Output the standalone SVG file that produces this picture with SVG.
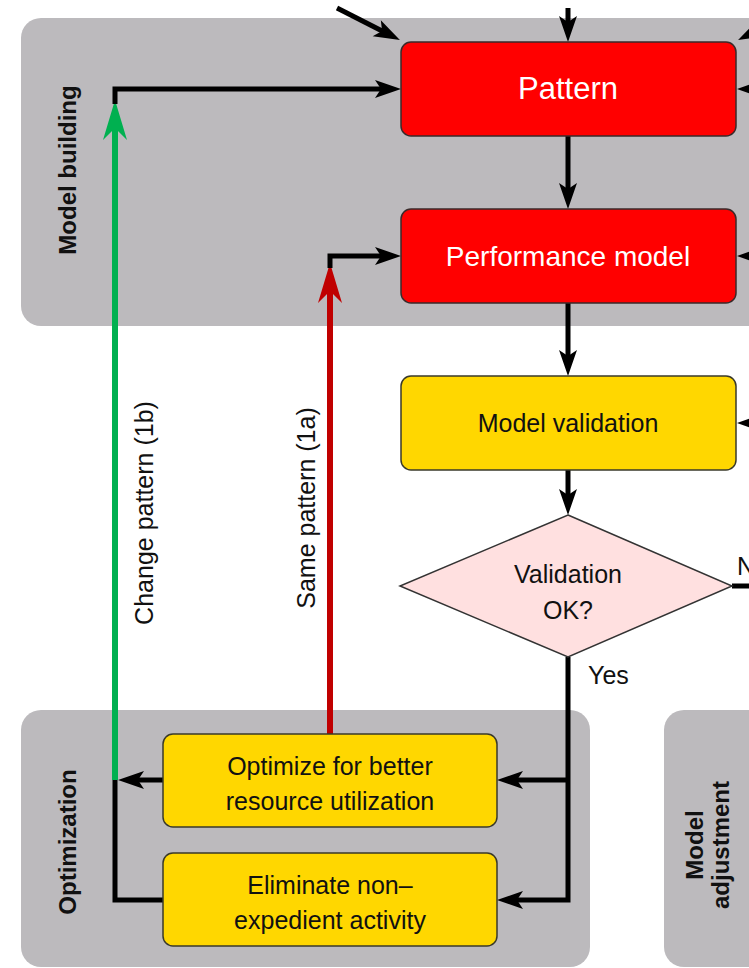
<svg xmlns="http://www.w3.org/2000/svg" width="749" height="968" viewBox="0 0 749 968">
<style>
.panel{fill:#bcbabd;}
.red{fill:#ff0000;stroke:#3a2a2a;stroke-width:1.5;}
.yel{fill:#ffd700;stroke:#3a3a2a;stroke-width:1.5;}
.dia{fill:#ffe0e0;stroke:#333;stroke-width:1.5;}
.t{font-family:"Liberation Sans",Arial,sans-serif;text-anchor:middle;}
.wt{fill:#ffffff;}
.bt{fill:#111111;}
.pl{font-family:"Liberation Sans",Arial,sans-serif;font-weight:bold;font-size:24px;fill:#111;text-anchor:middle;}
.lb{font-family:"Liberation Sans",Arial,sans-serif;font-size:25px;fill:#111;}
.k{fill:none;stroke:#000;stroke-width:5;stroke-linejoin:miter;}
.g{fill:none;stroke:#00b050;stroke-width:6;}
.r{fill:none;stroke:#c00000;stroke-width:6;}
</style>
<defs>
<marker id="ab" markerUnits="userSpaceOnUse" markerWidth="40" markerHeight="30" refX="0" refY="0" orient="auto" overflow="visible">
<path d="M10,0 L-16,-9 L-10,0 L-16,9 Z" fill="#000"/>
</marker>
<marker id="ag" markerUnits="userSpaceOnUse" markerWidth="50" markerHeight="30" refX="0" refY="0" orient="auto" overflow="visible">
<path d="M14,0 L-26,-12 L-14,0 L-26,12 Z" fill="#00b050"/>
</marker>
<marker id="ar" markerUnits="userSpaceOnUse" markerWidth="50" markerHeight="30" refX="0" refY="0" orient="auto" overflow="visible">
<path d="M14,0 L-26,-12 L-14,0 L-26,12 Z" fill="#c00000"/>
</marker>
</defs>

<g id="panel-model-building">
<rect class="panel" x="21" y="18" width="760" height="308" rx="20"/>
<text class="pl" transform="translate(76,170) rotate(-90)">Model building</text>
</g>
<g id="panel-optimization">
<rect class="panel" x="21" y="710" width="569" height="257" rx="20"/>
<text class="pl" transform="translate(76,842) rotate(-90)">Optimization</text>
</g>
<g id="panel-model-adjustment">
<rect class="panel" x="664" y="710" width="120" height="257" rx="20"/>
<text class="pl" transform="translate(703,845) rotate(-90)" font-size="25">Model</text>
<text class="pl" transform="translate(729,845) rotate(-90)" font-size="25">adjustment</text>
</g>

<g id="connectors">
<line class="k" x1="337" y1="8" x2="391" y2="35.5" marker-end="url(#ab)"/>
<line class="k" x1="568" y1="8" x2="568" y2="32" marker-end="url(#ab)"/>
<line class="k" x1="790" y1="13.6" x2="747" y2="35.5" marker-end="url(#ab)"/>
<line class="k" x1="770" y1="89" x2="747" y2="89" marker-end="url(#ab)"/>
<line class="k" x1="770" y1="256" x2="747" y2="256" marker-end="url(#ab)"/>
<line class="k" x1="770" y1="423" x2="747" y2="423" marker-end="url(#ab)"/>
<line class="k" x1="568" y1="136" x2="568" y2="199" marker-end="url(#ab)"/>
<line class="k" x1="568" y1="303" x2="568" y2="366" marker-end="url(#ab)"/>
<line class="k" x1="568" y1="470" x2="568" y2="505" marker-end="url(#ab)"/>
<line class="k" x1="732" y1="586" x2="770" y2="586"/>
<polyline class="k" points="568,657 568,900 507,900" marker-end="url(#ab)"/>
<line class="k" x1="568" y1="780" x2="507" y2="780" marker-end="url(#ab)"/>
<line class="k" x1="163" y1="780" x2="128" y2="780" marker-end="url(#ab)"/>
<polyline class="k" points="163,900 115,900 115,780"/>
<line class="g" x1="115" y1="780" x2="115" y2="114" marker-end="url(#ag)"/>
<polyline class="k" points="115,104 115,89 391,89" marker-end="url(#ab)"/>
<line class="r" x1="330" y1="734" x2="330" y2="277" marker-end="url(#ar)"/>
<polyline class="k" points="330,268 330,256 391,256" marker-end="url(#ab)"/>
<text class="lb" transform="translate(153,513) rotate(-90)" text-anchor="middle">Change pattern (1b)</text>
<text class="lb" transform="translate(315,508) rotate(-90)" text-anchor="middle">Same pattern (1a)</text>
<text class="lb" x="588" y="684" font-size="24">Yes</text>
<text class="lb" x="737" y="575" font-size="24">N</text>
</g>

<g id="node-pattern">
<rect class="red" x="401" y="42" width="335" height="94" rx="10"/>
<text class="t wt" x="568" y="99" font-size="31">Pattern</text>
</g>
<g id="node-performance-model">
<rect class="red" x="401" y="209" width="335" height="94" rx="10"/>
<text class="t wt" x="568" y="266" font-size="28">Performance model</text>
</g>
<g id="node-model-validation">
<rect class="yel" x="401" y="376" width="335" height="94" rx="10"/>
<text class="t bt" x="568" y="432" font-size="25">Model validation</text>
</g>
<g id="node-validation-ok">
<polygon class="dia" points="568,515 732,586 568,657 400,586"/>
<text class="t bt" x="568" y="583" font-size="25">Validation</text>
<text class="t bt" x="568" y="619" font-size="25">OK?</text>
</g>
<g id="node-optimize">
<rect class="yel" x="163" y="734" width="334" height="93" rx="10"/>
<text class="t bt" x="330" y="775" font-size="25">Optimize for better</text>
<text class="t bt" x="330" y="810" font-size="25">resource utilization</text>
</g>
<g id="node-eliminate">
<rect class="yel" x="163" y="853" width="334" height="93" rx="10"/>
<text class="t bt" x="330" y="894" font-size="25">Eliminate non–</text>
<text class="t bt" x="330" y="929" font-size="25">expedient activity</text>
</g>
</svg>
